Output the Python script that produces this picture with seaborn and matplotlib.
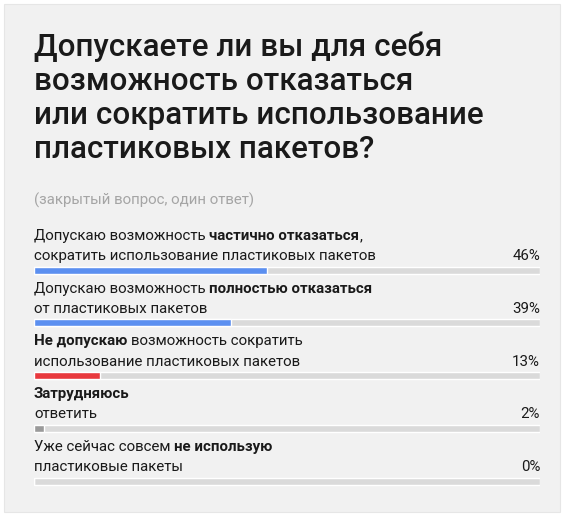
import numpy as np
import pandas as pd
import matplotlib
matplotlib.use("Agg")
import matplotlib.pyplot as plt
import seaborn as sns

## data
items = ["partly", "fully", "no", "unsure", "already"]
values = [46, 39, 13, 2, 0]
bar_colors = ["#5b8ff0", "#5b8ff0", "#e8383d", "#9a9a9a", "#9a9a9a"]
pct_labels = ["46%", "39%", "13%", "2%", "0%"]
## first label line as (text, bold) pieces, second line plain
label_line1 = [
    [("Допускаю возможность", False), ("частично отказаться", True), (",", False)],
    [("Допускаю возможность", False), ("полностью отказаться", True)],
    [("Не допускаю", True), ("возможность сократить", False)],
    [("Затрудняюсь", True)],
    [("Уже сейчас совсем", False), ("не использую", True)],
]
label_line2 = [
    "сократить использование пластиковых пакетов",
    "от пластиковых пакетов",
    "использование пластиковых пакетов",
    "ответить",
    "пластиковые пакеты",
]
title_lines = [
    "Допускаете ли вы для себя",
    "возможность отказаться",
    "или сократить использование",
    "пластиковых пакетов?",
]
subtitle = "(закрытый вопрос, один ответ)"

df = pd.DataFrame({"item": items, "pct": values, "track": [100] * len(items)})

sns.set_theme(style="white")
plt.rcParams["font.family"] = ["Roboto", "DejaVu Sans"]

W, H = 564, 516
fig = plt.figure(figsize=(W / 100, H / 100), dpi=100, facecolor="white")
# light gray card behind everything
fig.patches.append(plt.Rectangle((4 / W, 4 / H), 556 / W, 508 / H, transform=fig.transFigure,
                                 facecolor="#f1f1f1", edgecolor="#e6e6e6", lw=0.8, zorder=-1))

def fx(px):
    return px / W

def fy(py):
    return 1 - py / H

left, right = 34, 540
first_c, step = 270, 52.75
bar_h = 7
fs = 10.8

ax = fig.add_axes([fx(left), fy(first_c + 4.5 * step), (right - left) / W, 5 * step / H])
ax.set_facecolor("none")
sns.barplot(data=df, x="track", y="item", orient="h", color="#dadada", width=bar_h / step,
            ax=ax, saturation=1)
sns.barplot(data=df, x="pct", y="item", hue="item", palette=bar_colors, orient="h",
            width=bar_h / step, ax=ax, saturation=1, legend=False)
ax.set_xlim(0, 100)
ax.set_ylim(len(items) - 0.5, -0.5)
ax.axis("off")

# title + subtitle
for k, line in enumerate(title_lines):
    fig.text(fx(left), fy(56 + 34 * k), line, fontsize=22.6, fontweight="medium",
             color="#1a1a1a", va="baseline", ha="left")
fig.text(fx(left), fy(205), subtitle, fontsize=fs, color="#a5a5a5", va="baseline")

renderer = fig.canvas.get_renderer()
probe_a = fig.text(0, 0, "нн", fontsize=fs)
probe_b = fig.text(0, 0, "н н", fontsize=fs)
space_w = probe_b.get_window_extent(renderer).width - probe_a.get_window_extent(renderer).width
probe_a.remove()
probe_b.remove()

for i in range(len(items)):
    c = first_c + i * step
    x = left
    for j, (txt, bold) in enumerate(label_line1[i]):
        if j > 0 and txt != ",":
            x += space_w
        t = fig.text(fx(x), fy(c - 30), txt, fontsize=fs, color="#1a1a1a", va="baseline",
                     fontweight="bold" if bold else "normal")
        x += t.get_window_extent(renderer).width
    fig.text(fx(left), fy(c - 10), label_line2[i], fontsize=fs, color="#1a1a1a", va="baseline")
    fig.text(fx(right), fy(c - 10), pct_labels[i], fontsize=fs, color="#1a1a1a",
             va="baseline", ha="right")

fig.savefig("out.png", dpi=100, facecolor="white")
